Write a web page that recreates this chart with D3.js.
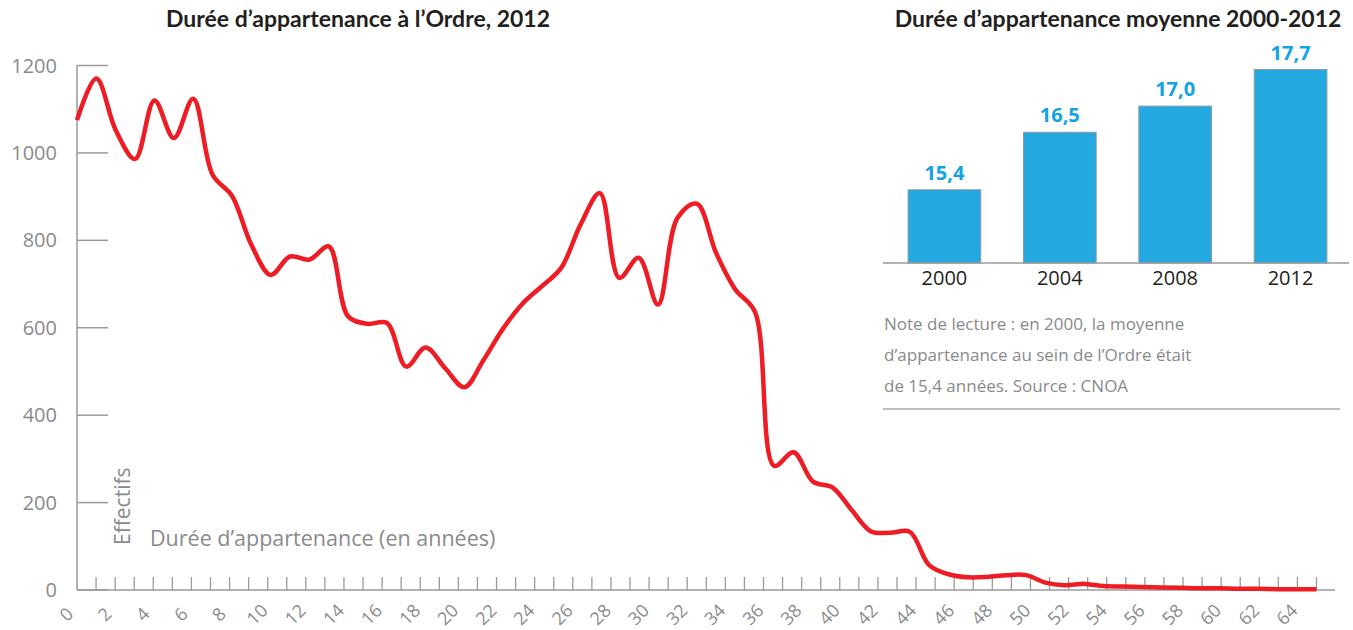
<!DOCTYPE html>
<html>
<head>
<meta charset="utf-8">
<script src="https://cdn.jsdelivr.net/npm/d3@7"></script>
<style>
  body { margin: 0; background: #fff; }
  svg { display: block; }
  text { font-family: "Open Sans", sans-serif; }
  .title { font-family: Lato, sans-serif; font-weight: bold; font-size: 23px; fill: #231f20; }
  .grey { fill: #8a8a8c; }
</style>
</head>
<body>
<svg width="1353" height="630"></svg>
<script>
// effectifs by membership duration (one point per year, 0..64)
var effectifs = [1075,1170,1052,986,1120,1034,1124,950,902,790,
                 721,763,756,786,626,609,611,511,555,508,
                 464,527,598,655,695,737,836,908,714,760,
                 653,851,884,771,687,637,284,315,248,235,
                 183,134,131,133,57,36,29,30,34,34,
                 17,11,14,9,8,7,6,5,4,4,
                 3,3,2,2,2]
var yTicks = [0,200,400,600,800,1000,1200]
var xTickLabels = [0,2,4,6,8,10,12,14,16,18,20,22,24,26,28,30,32,34,36,38,40,42,44,46,48,50,52,54,56,58,60,62,64]

// average duration, inset chart
var annees = ["2000","2004","2008","2012"]
var moyennes = [15.4,16.5,17.0,17.7]

var frNum = d3.format(".1f")
function virgule(v){ return frNum(v).replace(".", ",") }

var svg = d3.select("svg")
var axisColor = "#9a9a9c"

// ---- main line chart ----
var x = d3.scaleLinear().domain([0,65]).range([77,1316.5])
var y = d3.scaleLinear().domain([0,1200]).range([590,65.5])
// data points are spread over the 0..65 axis
var xi = d3.scaleLinear().domain([0, effectifs.length-1]).range([x(0), x(65)])

svg.append("text").attr("class","title")
  .attr("x", 358).attr("y", 27).attr("text-anchor","middle")
  .text("Durée d’appartenance à l’Ordre, 2012")

var g = svg.append("g")

// y axis
g.append("line").attr("x1", x(0)).attr("x2", x(0))
  .attr("y1", y(0)).attr("y2", y(1200))
  .attr("stroke", axisColor).attr("stroke-width", 1.5)
g.selectAll(".ytick").data(yTicks).enter().append("line")
  .attr("x1", x(0)).attr("x2", x(0)+31)
  .attr("y1", d => y(d)).attr("y2", d => y(d))
  .attr("stroke", axisColor).attr("stroke-width", 1.5)
g.selectAll(".ylab").data(yTicks).enter().append("text")
  .attr("class","grey")
  .attr("x", 57).attr("y", d => y(d)).attr("dy","0.35em")
  .attr("text-anchor","end").attr("font-size", 20)
  .text(d => d)

// x axis
g.append("line").attr("x1", x(0)).attr("x2", 1335)
  .attr("y1", y(0)).attr("y2", y(0))
  .attr("stroke", axisColor).attr("stroke-width", 1.5)
g.selectAll(".xtick").data(d3.range(1,66)).enter().append("line")
  .attr("x1", d => x(d)).attr("x2", d => x(d))
  .attr("y1", y(0)).attr("y2", y(0)-13)
  .attr("stroke", axisColor).attr("stroke-width", 1.3)
g.selectAll(".xlab").data(xTickLabels).enter().append("text")
  .attr("class","grey").attr("font-size", 18)
  .attr("text-anchor","middle").attr("dominant-baseline","central")
  .attr("transform", d => `translate(${x(d)-11},${y(0)+24}) rotate(-45)`)
  .text(d => d)

// axis titles
g.append("text").attr("class","grey").attr("font-size", 21)
  .attr("transform", `translate(130,545) rotate(-90)`)
  .text("Effectifs")
g.append("text").attr("class","grey").attr("font-size", 21.5)
  .attr("x", 150).attr("y", 546)
  .text("Durée d’appartenance (en années)")

// the red line
var line = d3.line()
  .x((d,i) => xi(i))
  .y(d => y(d))
  .curve(d3.curveCatmullRom.alpha(0.5))
g.append("path").datum(effectifs)
  .attr("d", line)
  .attr("fill","none")
  .attr("stroke","#ee1c25")
  .attr("stroke-width", 4.5)
  .attr("stroke-linejoin","round")

// ---- inset bar chart ----
svg.append("text").attr("class","title")
  .attr("x", 1118).attr("y", 27).attr("text-anchor","middle")
  .text("Durée d’appartenance moyenne 2000-2012")

var xb = d3.scaleBand().domain(annees).range([885,1350]).paddingInner(0.37).paddingOuter(0.2)
var yb = d3.scaleLinear().domain([14,17.7]).range([263,69.5])

var gb = svg.append("g")
gb.selectAll(".bar").data(moyennes).enter().append("rect")
  .attr("x", (d,i) => xb(annees[i]))
  .attr("y", d => yb(d))
  .attr("width", xb.bandwidth())
  .attr("height", d => yb(14) - yb(d))
  .attr("fill","#23a8df")
  .attr("stroke","#8f9aa0").attr("stroke-width",1)
gb.append("line").attr("x1", 883).attr("x2", 1349)
  .attr("y1", yb(14)).attr("y2", yb(14))
  .attr("stroke", axisColor).attr("stroke-width", 1.5)
gb.selectAll(".val").data(moyennes).enter().append("text")
  .attr("x", (d,i) => xb(annees[i]) + xb.bandwidth()/2)
  .attr("y", d => yb(d) - 10)
  .attr("text-anchor","middle")
  .attr("font-family","Lato, sans-serif").attr("font-weight","bold")
  .attr("font-size", 20).attr("fill","#12a3e3")
  .text(d => virgule(d))
gb.selectAll(".yr").data(annees).enter().append("text")
  .attr("x", d => xb(d) + xb.bandwidth()/2)
  .attr("y", 285)
  .attr("text-anchor","middle")
  .attr("font-size", 20).attr("fill","#231f20")
  .text(d => d)

// note
var note = ["Note de lecture : en 2000, la moyenne",
            "d’appartenance au sein de l’Ordre était",
            "de 15,4 années. Source : CNOA"]
gb.selectAll(".note").data(note).enter().append("text")
  .attr("class","grey").attr("font-size", 17)
  .attr("x", 884).attr("y", (d,i) => 330 + i*31)
  .text(d => d)
gb.append("line").attr("x1", 883).attr("x2", 1340)
  .attr("y1", 409).attr("y2", 409)
  .attr("stroke", "#a8a8aa").attr("stroke-width", 1.5)
</script>
</body>
</html>
